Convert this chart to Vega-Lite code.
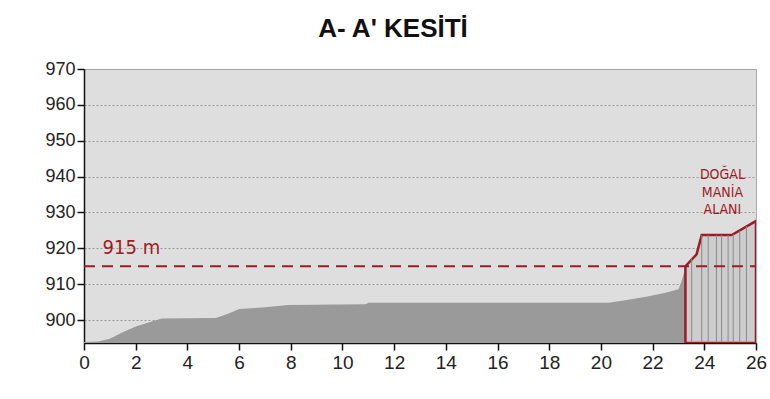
{
  "$schema": "https://vega.github.io/schema/vega-lite/v6.json",
  "width": 672,
  "height": 274,
  "autosize": {"type": "none"},
  "padding": {"left": 84, "top": 69, "right": 14, "bottom": 56},
  "background": "white",
  "title": {
    "text": "A- A' KESİTİ",
    "font": "Liberation Sans",
    "fontSize": 26,
    "fontWeight": "bold",
    "color": "#111111",
    "anchor": "middle",
    "dx": -27,
    "offset": 18
  },
  "config": {
    "view": {"fill": "#dedede", "stroke": "#a8a8a8", "strokeWidth": 1},
    "axis": {
      "labelFont": "Liberation Sans",
      "labelColor": "#222222",
      "labelOverlap": false,
      "labelFlush": false,
      "domainColor": "#111111",
      "domainWidth": 1.5,
      "tickColor": "#111111",
      "tickWidth": 1.5,
      "tickSize": 7,
      "title": null
    }
  },
  "datasets": {
    "terrain": [
      {"x": 0, "y": 893.9},
      {"x": 0.55, "y": 894.0},
      {"x": 0.75, "y": 894.4},
      {"x": 1.0, "y": 894.8},
      {"x": 1.5, "y": 896.6},
      {"x": 2.0, "y": 898.2},
      {"x": 2.5, "y": 899.3},
      {"x": 3.0, "y": 900.4},
      {"x": 5.1, "y": 900.6},
      {"x": 5.6, "y": 901.8},
      {"x": 6.0, "y": 903.1},
      {"x": 6.9, "y": 903.5},
      {"x": 7.9, "y": 904.2},
      {"x": 10.9, "y": 904.4},
      {"x": 11.0, "y": 904.8},
      {"x": 20.3, "y": 904.8},
      {"x": 21.0, "y": 905.6},
      {"x": 21.8, "y": 906.6},
      {"x": 22.5, "y": 907.6},
      {"x": 23.0, "y": 908.6},
      {"x": 23.1, "y": 910.4},
      {"x": 23.27, "y": 914.5}
    ],
    "zone": [
      {"x": 23.27, "y": 915.0},
      {"x": 23.7, "y": 918.3},
      {"x": 23.9, "y": 923.7},
      {"x": 25.06, "y": 923.7},
      {"x": 26.0, "y": 927.6}
    ],
    "hatch": [
      {"x": 23.51, "y": 917.0},
      {"x": 23.9, "y": 923.7},
      {"x": 24.15, "y": 923.7},
      {"x": 24.47, "y": 923.7},
      {"x": 24.67, "y": 923.7},
      {"x": 24.92, "y": 923.7},
      {"x": 25.12, "y": 923.9},
      {"x": 25.37, "y": 924.9},
      {"x": 25.63, "y": 926.2}
    ],
    "labels": [
      {"x": 0.72, "y": 918.5, "text": "915 m", "kind": "level"},
      {"x": 24.7, "y": 939.2, "text": "DOĞAL", "kind": "zone"},
      {"x": 24.7, "y": 934.3, "text": "MANİA", "kind": "zone"},
      {"x": 24.7, "y": 929.7, "text": "ALANI", "kind": "zone"}
    ],
    "level": [{"x": 0, "y": 915}, {"x": 26, "y": 915}]
  },
  "encoding": {
    "x": {
      "field": "x", "type": "quantitative",
      "scale": {"domain": [0, 26], "nice": false},
      "axis": {"values": [0, 2, 4, 6, 8, 10, 12, 14, 16, 18, 20, 22, 24, 26], "labelFontSize": 19, "labelPadding": 3, "grid": false}
    },
    "y": {
      "field": "y", "type": "quantitative",
      "scale": {"domain": [893.6, 970], "nice": false, "zero": false},
      "axis": {"values": [900, 910, 920, 930, 940, 950, 960, 970], "labelFontSize": 18, "labelPadding": 2, "grid": true, "gridColor": "#9a9a9a", "gridDash": [2, 2], "gridWidth": 1}
    }
  },
  "layer": [
    {
      "data": {"name": "terrain"},
      "mark": {"type": "area", "color": "#9a9a9a", "clip": true},
      "encoding": {"y2": {"datum": 893.6}}
    },
    {
      "data": {"name": "zone"},
      "mark": {"type": "area", "fill": "#cdcdcd", "stroke": "#9e1b24", "strokeWidth": 2.5, "clip": true},
      "encoding": {"y2": {"datum": 893.6}}
    },
    {
      "data": {"name": "hatch"},
      "mark": {"type": "rule", "color": "#8a8a8a", "strokeWidth": 1},
      "encoding": {"y2": {"datum": 893.8}}
    },
    {
      "data": {"name": "level"},
      "mark": {"type": "line", "color": "#9e1b24", "strokeWidth": 2, "strokeDash": [11, 7]},
      "encoding": {}
    },
    {
      "data": {"name": "labels"},
      "transform": [{"filter": "datum.kind == 'level'"}],
      "mark": {"type": "text", "align": "left", "baseline": "alphabetic", "color": "#9e1b24", "fontSize": 20, "font": "DejaVu Sans Condensed, Liberation Sans"},
      "encoding": {"text": {"field": "text"}}
    },
    {
      "data": {"name": "labels"},
      "transform": [{"filter": "datum.kind == 'zone'"}],
      "mark": {"type": "text", "align": "center", "baseline": "alphabetic", "color": "#9e1b24", "fontSize": 14, "font": "DejaVu Sans Condensed, Liberation Sans"},
      "encoding": {"text": {"field": "text"}}
    }
  ]
}
